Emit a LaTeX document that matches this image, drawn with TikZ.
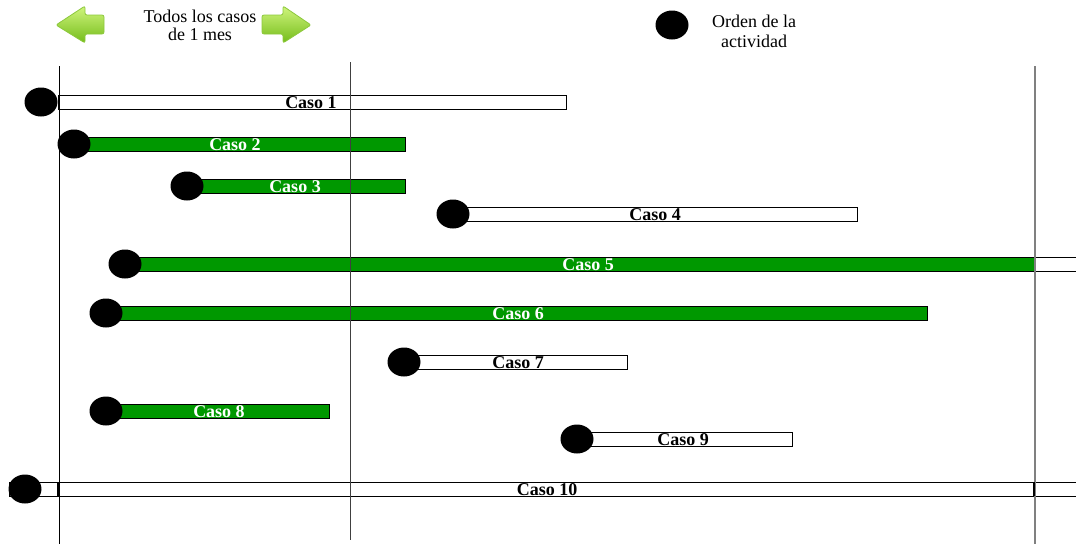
\documentclass[tikz,border=0pt]{standalone}
\usepackage{fontspec}
\setmainfont{Liberation Serif}
\usetikzlibrary{shapes.geometric}
\definecolor{barg}{RGB}{0,152,0}
\definecolor{arrtop}{RGB}{208,245,125}
\definecolor{arrbot}{RGB}{116,188,26}
\definecolor{arredge}{RGB}{140,200,60}
\begin{document}
\begin{tikzpicture}[x=1pt,y=-1pt,
  bar/.style={draw=black, line width=0.9pt, minimum height=14pt, inner sep=0pt, outer sep=0pt, anchor=west},
  gbar/.style={bar, fill=barg},
  wbar/.style={bar, fill=white},
  dot/.style={ellipse, fill=black, minimum width=33pt, minimum height=29pt, inner sep=0pt},
  lab/.style={font=\bfseries\fontsize{18}{18}\selectfont, inner sep=0pt, anchor=base},
  wlab/.style={lab, text=white},
  toptext/.style={font=\fontsize{18}{18}\selectfont, align=center, inner sep=0pt},
  greenarrow/.style={draw=arredge, line width=0.8pt, rounded corners=2pt, top color=arrtop, bottom color=arrbot},
  vline/.style={line width=1pt}
]
\useasboundingbox (0,0) rectangle (1076,544);

% legend / header
\draw[greenarrow] (56,25) -- (85,6) -- (85,15) -- (104,15) -- (104,34) -- (85,34) -- (85,43) -- cycle;
\draw[greenarrow] (311,25) -- (283,6) -- (283,15) -- (262,15) -- (262,34) -- (283,34) -- (283,43) -- cycle;
\node[toptext] (t1) at (200,25.5) {Todos los casos\\de 1 mes};
\node[dot] (dl) at (672,25) {};
\node[toptext, font=\fontsize{18}{20}\selectfont] (t2) at (754,31) {Orden de la\\actividad};

% bars
\node[wbar, minimum width=508pt] (b1) at (58,102) {};
\node[gbar, minimum width=331pt] (b2) at (74,144) {};
\node[gbar, minimum width=218pt] (b3) at (187,186) {};
\node[wbar, minimum width=404pt] (b4) at (453,214) {};
\node[gbar, minimum width=909pt] (b5) at (125,264) {};
\node[wbar, minimum width=44pt] (b5w) at (1034,264) {};
\node[gbar, minimum width=821pt] (b6) at (106,313) {};
\node[wbar, minimum width=223pt] (b7) at (404,362) {};
\node[gbar, minimum width=223pt] (b8) at (106,411) {};
\node[wbar, minimum width=215pt] (b9) at (577,439) {};
\node[wbar, minimum width=1069pt] (b10) at (9,489) {};

% time lines
\coordinate (v1t) at (59,66);   \coordinate (v1b) at (59,544);
\coordinate (v2t) at (350,62);  \coordinate (v2b) at (350,540);
\coordinate (v3t) at (1035,66); \coordinate (v3b) at (1035,544);
\draw[vline] (v1t) -- (v1b);
\draw[vline, black!75] (v2t) -- (v2b);
\draw[vline, line width=1.8pt, black!50] (v3t) -- (v3b);
\coordinate (m1t) at (58,482); \coordinate (m1b) at (58,496);
\coordinate (m2t) at (1034,482); \coordinate (m2b) at (1034,496);
\draw[line width=2pt] (m1t) -- (m1b);
\draw[line width=2pt] (m2t) -- (m2b);

% labels
\node[lab]  (l1) at (311,108) {Caso 1};
\node[wlab] (l2) at (235,150) {Caso 2};
\node[wlab] (l3) at (295,192) {Caso 3};
\node[lab]  (l4) at (655,220) {Caso 4};
\node[wlab] (l5) at (588,270) {Caso 5};
\node[wlab] (l6) at (518,319) {Caso 6};
\node[lab]  (l7) at (518,368) {Caso 7};
\node[wlab] (l8) at (219,417) {Caso 8};
\node[lab]  (l9) at (683,445) {Caso 9};
\node[lab]  (l10) at (547,495) {Caso 10};

% order dots
\node[dot] (d1) at (41,102) {};
\node[dot] (d2) at (74,144) {};
\node[dot] (d3) at (187,186) {};
\node[dot] (d4) at (453,214) {};
\node[dot] (d5) at (125,264) {};
\node[dot] (d6) at (106,313) {};
\node[dot] (d7) at (404,362) {};
\node[dot] (d8) at (106,411) {};
\node[dot] (d9) at (577,439) {};
\node[dot] (d10) at (25,489) {};
\end{tikzpicture}
\end{document}
